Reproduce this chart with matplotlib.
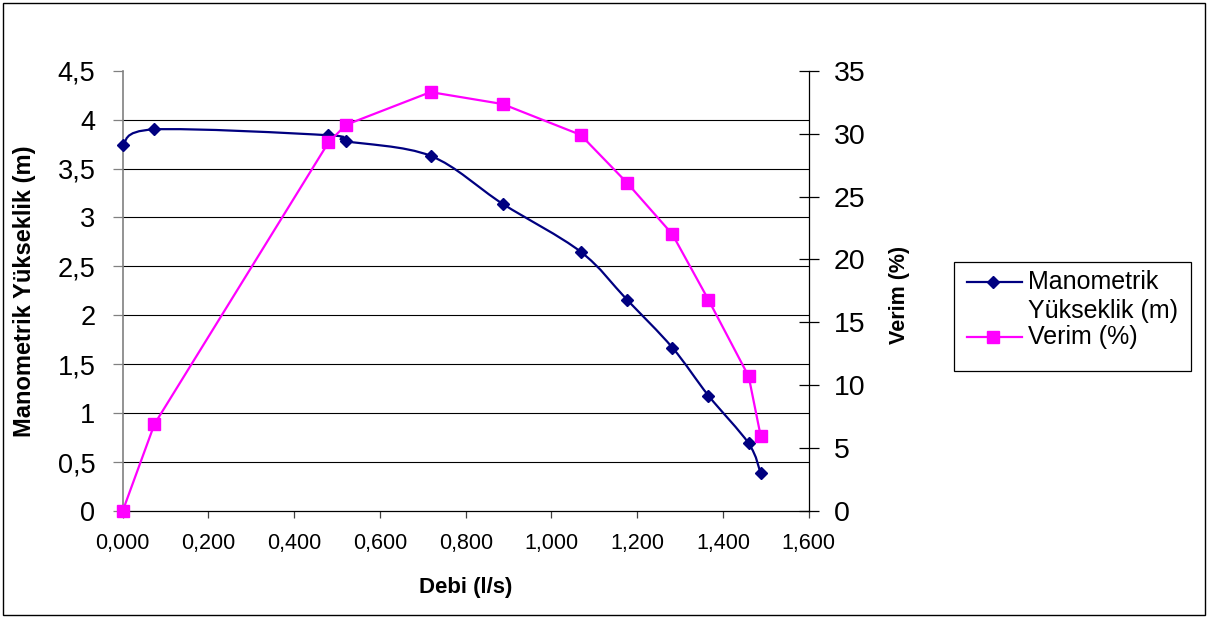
import numpy as np
import matplotlib
matplotlib.use("Agg")
import matplotlib.pyplot as plt
from matplotlib.path import Path
from matplotlib.patches import PathPatch, Rectangle
from matplotlib.lines import Line2D
from matplotlib.ticker import FuncFormatter

# Pump test data
debi = [0.000, 0.074, 0.480, 0.521, 0.718, 0.886, 1.068, 1.176, 1.282, 1.366, 1.460, 1.488]
yukseklik = [3.74, 3.90, 3.84, 3.78, 3.63, 3.14, 2.65, 2.16, 1.67, 1.18, 0.69, 0.385]
verim = [0.0, 6.9, 29.3, 30.7, 33.3, 32.35, 29.9, 26.1, 22.0, 16.8, 10.7, 5.96]

x_ticks = [0.0, 0.2, 0.4, 0.6, 0.8, 1.0, 1.2, 1.4, 1.6]
left_ticks = [0, 0.5, 1, 1.5, 2, 2.5, 3, 3.5, 4, 4.5]
right_ticks = [0, 5, 10, 15, 20, 25, 30, 35]
grid_levels = [0.5, 1, 1.5, 2, 2.5, 3, 3.5, 4]

NAVY = "#000080"
MAGENTA = "#FF00FF"
FONT = ["Liberation Sans", "DejaVu Sans"]
plt.rcParams["font.family"] = FONT

W, H = 1207, 617
fig = plt.figure(figsize=(W / 100, H / 100), dpi=100)


def px_rect(x0, y0, x1, y1):
    return [x0 / W, 1 - y1 / H, (x1 - x0) / W, (y1 - y0) / H]


def smooth_path(xs, ys):
    """Catmull-Rom style Bezier curve through the points."""
    pts = np.column_stack([xs, ys]).astype(float)
    n = len(pts)
    verts = [pts[0]]
    codes = [Path.MOVETO]
    for i in range(n - 1):
        p0 = pts[i - 1] if i > 0 else pts[i]
        p1, p2 = pts[i], pts[i + 1]
        p3 = pts[i + 2] if i + 2 < n else pts[i + 1]
        verts += [p1 + (p2 - p0) / 6, p2 - (p3 - p1) / 6, p2]
        codes += [Path.CURVE4] * 3
    return Path(verts, codes)


def comma_fmt(decimals=None):
    def f(v, pos):
        s = f"{v:.{decimals}f}" if decimals is not None else f"{v:g}"
        return s.replace(".", ",")
    return FuncFormatter(f)


ax = fig.add_axes(px_rect(122.7, 70.7, 808.7, 511))
ax.set_xlim(0, 1.6)
ax.set_ylim(0, 4.5)
ax.set_xticks(x_ticks)
ax.set_yticks(left_ticks)
ax.xaxis.set_major_formatter(comma_fmt(3))
ax.yaxis.set_major_formatter(comma_fmt())

for s in ["top", "right"]:
    ax.spines[s].set_visible(False)
ax.spines["left"].set_color("#808080")
ax.spines["left"].set_linewidth(1.2)
ax.spines["bottom"].set_color("#000000")
ax.spines["bottom"].set_linewidth(0.9)
ax.tick_params(axis="y", direction="out", length=7.2, width=0.9, color="#808080",
               labelsize=19.5, pad=12.5)
ax.tick_params(axis="x", direction="out", length=5, width=0.9, color="#404040",
               labelsize=15.5, pad=10.5)

for g in grid_levels:
    ax.axhline(g, color="black", lw=0.8, zorder=1)

# Head curve (smoothed) on the primary axis
ax.add_patch(PathPatch(smooth_path(debi, yukseklik), fill=False, edgecolor=NAVY,
                       lw=1.6, zorder=3))
ax.plot(debi, yukseklik, linestyle="none", marker="D", ms=6.0, color=NAVY,
        zorder=4, clip_on=False)

# Efficiency on the secondary axis
ax2 = ax.twinx()
ax2.set_ylim(0, 35)
ax2.set_yticks(right_ticks)
for s in ["top", "left", "bottom"]:
    ax2.spines[s].set_visible(False)
ax2.spines["right"].set_color("black")
ax2.spines["right"].set_linewidth(0.9)
ax2.tick_params(axis="y", direction="inout", length=14.4, width=0.9, color="black",
                labelsize=20.5, pad=11)
ax2.plot(debi, verim, color=MAGENTA, lw=1.6, marker="s", ms=8.0, zorder=5,
         clip_on=False)

# Axis titles
fig.text(466 / W, 1 - 588 / H, "Debi (l/s)", ha="center", va="center",
         fontsize=16, fontweight="bold")
fig.text(25 / W, 1 - 291 / H, "Manometrik Yükseklik (m)", ha="center", va="center",
         rotation=90, fontsize=17, fontweight="bold")
fig.text(899 / W, 1 - 295 / H, "Verim (%)", ha="center", va="center",
         rotation=90, fontsize=15.5, fontweight="bold")

# Overlay in pixel coordinates for legend and chart border
ov = fig.add_axes([0, 0, 1, 1], zorder=10)
ov.set_xlim(0, W)
ov.set_ylim(H, 0)
ov.axis("off")
ov.patch.set_alpha(0)

ov.add_patch(Rectangle((2.5, 2.5), 1202, 612, fill=False, edgecolor="black", lw=1.0))
ov.add_patch(Rectangle((954, 262), 237, 109, fill=False, edgecolor="black", lw=0.9))

ov.add_line(Line2D([967, 1022], [282, 282], color=NAVY, lw=1.6))
ov.add_line(Line2D([993], [282], color=NAVY, marker="D", ms=6.0, linestyle="none"))
ov.add_line(Line2D([967, 1022], [337, 337], color=MAGENTA, lw=1.6))
ov.add_line(Line2D([993], [337], color=MAGENTA, marker="s", ms=8.0, linestyle="none"))

ov.text(1028, 282, "Manometrik", ha="left", va="center", fontsize=18)
ov.text(1028, 311, "Yükseklik (m)", ha="left", va="center", fontsize=18)
ov.text(1028, 337, "Verim (%)", ha="left", va="center", fontsize=18)

fig.savefig("out.png", dpi=100)
